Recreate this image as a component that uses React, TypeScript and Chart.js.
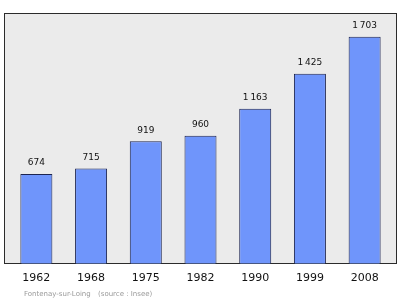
import React, { useEffect, useRef } from "react";
import { Chart, registerables } from "chart.js";

Chart.register(...registerables);

const years = ["1962", "1968", "1975", "1982", "1990", "1999", "2008"];
const population = [674, 715, 919, 960, 1163, 1425, 1703];
const valueLabels = ["674", "715", "919", "960", "1\u2009163", "1\u2009425", "1\u2009703"];
const footerPlace = "Fontenay-sur-Loing";
const footerSource = "(source : Insee)";

const boxPlugin = {
  id: "boxPlugin",
  beforeDraw(chart: any) {
    const { ctx, chartArea } = chart;
    ctx.save();
    const l = chartArea.left - 5;
    const r = chartArea.right + 4;
    const t = chartArea.top;
    const b = chartArea.bottom;
    ctx.fillStyle = "#ebebeb";
    ctx.fillRect(l, t, r - l, b - t);
    ctx.strokeStyle = "#2b2b2b";
    ctx.lineWidth = 1;
    ctx.strokeRect(Math.round(l) + 0.5, Math.round(t) - 0.5, Math.round(r - l), Math.round(b - t));
    ctx.restore();
  },
  afterDatasetsDraw(chart: any) {
    const { ctx, chartArea } = chart;
    const meta = chart.getDatasetMeta(0);
    ctx.save();
    ctx.fillStyle = "#111";
    ctx.font = "9px 'DejaVu Sans'";
    ctx.textAlign = "center";
    ctx.textBaseline = "middle";
    meta.data.forEach((el: any, i: number) => {
      ctx.fillText(valueLabels[i], el.x, el.y - 11);
    });
    ctx.fillStyle = "#9a9a9a";
    ctx.font = "7px 'DejaVu Sans'";
    ctx.textAlign = "left";
    ctx.fillText(footerPlace, chartArea.left + 15, chartArea.bottom + 30);
    ctx.fillText(footerSource, chartArea.left + 89, chartArea.bottom + 30);
    ctx.restore();
  },
};

export default function App() {
  const ref = useRef<HTMLCanvasElement | null>(null);
  useEffect(() => {
    document.body.style.margin = "0";
    const canvas = ref.current!;
    const chart = new Chart(canvas, {
      type: "bar",
      data: {
        labels: years,
        datasets: [
          {
            data: population,
            backgroundColor: "#6f95fb",
            borderColor: "#1c2450",
            borderWidth: 1,
            barPercentage: 0.585,
            categoryPercentage: 1,
          },
        ],
      },
      options: {
        responsive: false,
        animation: false,
        layout: { padding: { left: 9, right: 8, top: 14, bottom: 6 } },
        plugins: { legend: { display: false }, tooltip: { enabled: false } },
        scales: {
          x: {
            grid: { display: false, drawTicks: false },
            border: { display: false },
            ticks: {
              font: { family: "'DejaVu Sans'", size: 11 },
              color: "#111",
              padding: 8,
              maxRotation: 0,
            },
          },
          y: {
            display: false,
            min: 0,
            max: 1873,
          },
        },
      },
      plugins: [boxPlugin],
    });
    return () => chart.destroy();
  }, []);
  return (
    <canvas ref={ref} width={400} height={299} style={{ display: "block", width: 400, height: 299 }} />
  );
}
